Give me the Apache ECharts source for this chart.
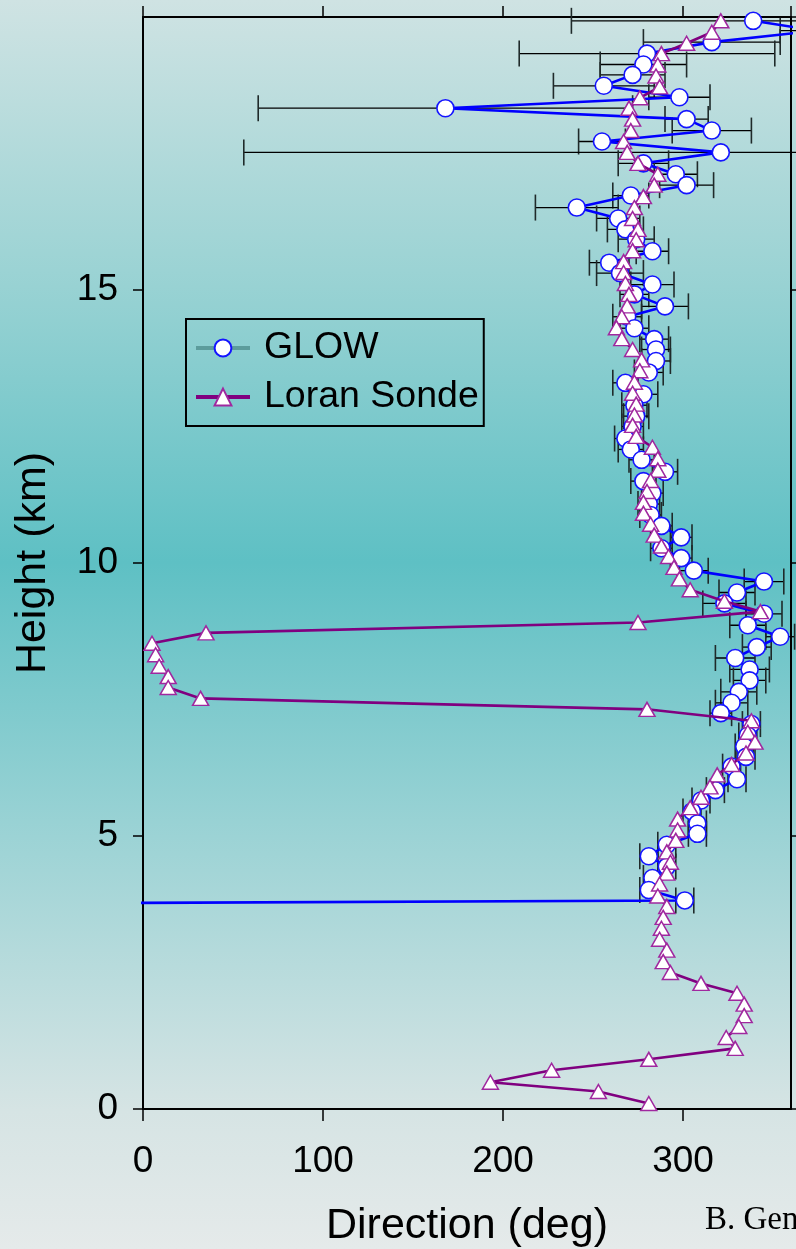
<!DOCTYPE html>
<html>
<head>
<meta charset="utf-8">
<script src="https://cdn.jsdelivr.net/npm/echarts@6/dist/echarts.min.js"></script>
<style>
  html, body { margin: 0; padding: 0; }
  #chart { width: 796px; height: 1249px; }
</style>
</head>
<body>
<div id="chart"></div>
<script>
// Wind direction profiles: GLOW lidar (with uncertainty) vs. Loran sonde
const glowHeight = [19.93, 19.75, 19.54, 19.33, 19.13, 18.94, 18.74, 18.53, 18.33, 18.13,
  17.92, 17.72, 17.52, 17.32, 17.12, 16.92, 16.73, 16.51, 16.31, 16.11,
  15.93, 15.71, 15.50, 15.31, 15.10, 14.92, 14.70, 14.51, 14.30, 14.10,
  13.91, 13.70, 13.49, 13.30, 13.09, 12.89, 12.69, 12.50, 12.28, 12.08,
  11.89, 11.67, 11.50, 11.28, 11.08, 10.88, 10.68, 10.47, 10.27, 10.09,
  9.86, 9.66, 9.46, 9.26, 9.07, 8.86, 8.65, 8.46, 8.26, 8.05,
  7.85, 7.64, 7.44, 7.25, 7.05, 6.84, 6.64, 6.45, 6.27, 6.04,
  5.84, 5.65, 5.45, 5.23, 5.04, 4.84, 4.63, 4.44, 4.23, 4.01,
  3.82, 3.76];
const glowDirection = [339, 374, 316, 280, 278, 272, 256, 298, 168, 302,
  316, 255, 321, 278, 296, 302, 271, 241, 264, 268,
  274, 283, 259, 265, 283, 273, 290, 269, 273, 284,
  285, 285, 281, 268, 278, 273, 274, 272, 268, 271,
  277, 290, 278, 283, 281, 282, 288, 299, 288, 299,
  306, 345, 330, 323, 345, 336, 354, 341, 329, 337,
  337, 331, 327, 321, 338, 336, 334, 335, 327, 330,
  318, 310, 305, 308, 308, 291, 281, 291, 283, 281,
  301, -100];
const glowError = [101, 20, 38, 71, 24, 18, 28, 17, 104, 12,
  22, 13, 265, 14, 12, 15, 10, 23, 12, 10,
  10, 9, 11, 13, 12, 8, 13, 8, 8, 8,
  8, 8, 8, 7, 8, 7, 7, 6, 6, 7,
  7, 7, 7, 6, 6, 6, 6, 6, 6, 6,
  8, 11, 10, 12, 10, 10, 8, 8, 11, 11,
  9, 10, 9, 6, 5, 5, 5, 5, 5, 5,
  5, 5, 5, 5, 5, 5, 5, 5, 5, 5,
  5, 0];

const loranHeight = [19.93, 19.72, 19.52, 19.33, 19.12, 18.92, 18.72, 18.52, 18.33, 18.13,
  17.92, 17.72, 17.52, 17.32, 17.12, 16.92, 16.71, 16.51, 16.31, 16.11,
  15.92, 15.72, 15.52, 15.32, 15.12, 14.92, 14.71, 14.51, 14.31, 14.11,
  13.91, 13.72, 13.52, 13.31, 13.11, 12.91, 12.71, 12.52, 12.32, 12.12,
  11.91, 11.70, 11.51, 11.31, 11.11, 10.91, 10.71, 10.51, 10.31, 10.12,
  9.92, 9.71, 9.51, 9.30, 9.11, 8.91, 8.72, 8.53, 8.32, 8.11,
  7.92, 7.72, 7.52, 7.32, 7.11, 6.90, 6.72, 6.52, 6.31, 6.12,
  5.90, 5.71, 5.52, 5.31, 5.11, 4.92, 4.71, 4.52, 4.32, 4.12,
  3.90, 3.71, 3.51, 3.31, 3.11, 2.91, 2.70, 2.50, 2.30, 2.12,
  1.92, 1.71, 1.51, 1.31, 1.11, 0.91, 0.71, 0.49, 0.32, 0.10];
const loranDirection = [321, 316, 302, 288, 286, 285, 287, 276, 270, 272,
  271, 267, 269, 275, 286, 284, 278, 273, 272, 275,
  274, 272, 267, 267, 268, 270, 269, 266, 263, 266,
  272, 277, 276, 273, 272, 274, 273, 272, 274, 283,
  286, 286, 282, 280, 278, 278, 282, 284, 288, 292,
  295, 298, 304, 323, 343, 275, 35, 5, 7, 9,
  14, 14, 32, 280, 338, 336, 340, 335, 327, 319,
  315, 310, 304, 297, 297, 296, 291, 293, 291, 287,
  286, 291, 289, 288, 287, 291, 289, 293, 310, 330,
  334, 334, 331, 324, 329, 281, 227, 193, 253, 281];

const xTicks = { min: 0, max: 360, interval: 100 };
const yTicks = { min: 0, max: 20, interval: 5 };

const FONT = 'Liberation Sans, Arial, sans-serif';

const glowPoints = glowHeight.map((h, i) => [glowDirection[i], h]);
const loranPoints = loranHeight.map((h, i) => [loranDirection[i], h]);
const glowBars = glowHeight
  .map((h, i) => [glowDirection[i] - glowError[i], glowDirection[i] + glowError[i], h, glowError[i]])
  .filter(d => d[3] > 0);

const chart = echarts.init(document.getElementById('chart'), null, { renderer: 'canvas' });

const axisLine = { show: true, onZero: false, lineStyle: { color: '#000', width: 2 } };
const axisTick = { show: true, inside: false, length: 12, lineStyle: { color: '#000', width: 1.5 } };

chart.setOption({
  animation: false,
  backgroundColor: {
    type: 'linear', x: 0, y: 0, x2: 0, y2: 1,
    colorStops: [
      { offset: 0.00, color: '#cfe3e3' },
      { offset: 0.23, color: '#98d2d3' },
      { offset: 0.45, color: '#5ec0c4' },
      { offset: 0.67, color: '#9cd3d5' },
      { offset: 0.89, color: '#d6e4e4' },
      { offset: 1.00, color: '#e5eaea' }
    ]
  },
  grid: { left: 143, right: 5, top: 17, bottom: 140, containLabel: false, outerBoundsMode: 'none' },
  legend: {
    orient: 'vertical',
    left: 186, top: 319,
    padding: [10, 5, 10, 8],
    itemGap: 11,
    itemWidth: 54,
    itemHeight: 21,
    borderColor: '#000',
    borderWidth: 2,
    textStyle: { fontFamily: FONT, fontSize: 37.5, color: '#000', padding: [0, 0, 0, 9] },
    data: [
      { name: 'GLOW', lineStyle: { color: '#5c9c9c', width: 4 } },
      { name: 'Loran Sonde', lineStyle: { width: 4 } }
    ]
  },
  xAxis: [
    {
      type: 'value', position: 'bottom', ...xTicks,
      name: 'Direction (deg)', nameLocation: 'middle', nameGap: 96,
      nameTextStyle: { fontFamily: FONT, fontSize: 43, color: '#000' },
      axisLine, axisTick,
      axisLabel: { fontFamily: FONT, fontSize: 37, color: '#000', margin: 34, showMaxLabel: false },
      splitLine: { show: false }
    },
    {
      type: 'value', position: 'top', ...xTicks,
      axisLine, axisTick: { ...axisTick, length: 11 },
      axisLabel: { show: false }, splitLine: { show: false }
    }
  ],
  yAxis: [
    {
      type: 'value', position: 'left', ...yTicks,
      name: 'Height (km)', nameLocation: 'middle', nameGap: 88,
      nameTextStyle: { fontFamily: FONT, fontSize: 43, color: '#000' },
      axisLine, axisTick: { ...axisTick, length: 10 },
      axisLabel: { fontFamily: FONT, fontSize: 37, color: '#000', margin: 25, showMaxLabel: false },
      splitLine: { show: false }
    },
    {
      type: 'value', position: 'right', ...yTicks,
      axisLine, axisTick: { ...axisTick, length: 8 },
      axisLabel: { show: false }, splitLine: { show: false }
    }
  ],
  graphic: [
    {
      type: 'text', left: 705, top: 1204, silent: true,
      style: { text: 'B. Gentry', font: '33px "Liberation Serif", "Times New Roman", serif', fill: '#000' }
    }
  ],
  series: [
    {
      type: 'custom',
      name: 'GLOW error',
      clip: false,
      z: 1,
      encode: { x: [0, 1], y: 2 },
      data: glowBars,
      renderItem: (params, api) => {
        const lo = api.coord([api.value(0), api.value(2)]);
        const hi = api.coord([api.value(1), api.value(2)]);
        const cap = 13;
        return {
          type: 'group',
          children: [
            { type: 'line', shape: { x1: lo[0], y1: lo[1], x2: hi[0], y2: hi[1] },
              style: { stroke: '#000', lineWidth: 1.3 } },
            { type: 'line', shape: { x1: lo[0], y1: lo[1] - cap, x2: lo[0], y2: lo[1] + cap },
              style: { stroke: '#1f2a2a', lineWidth: 1.6 } },
            { type: 'line', shape: { x1: hi[0], y1: hi[1] - cap, x2: hi[0], y2: hi[1] + cap },
              style: { stroke: '#1f2a2a', lineWidth: 1.6 } }
          ]
        };
      }
    },
    {
      type: 'line',
      name: 'GLOW',
      z: 3,
      data: glowPoints,
      clip: true,
      symbol: 'circle',
      symbolSize: 17,
      showAllSymbol: true,
      lineStyle: { color: '#0000ff', width: 2.6 },
      itemStyle: { color: '#ffffff', borderColor: '#1414ff', borderWidth: 1.6 }
    },
    {
      type: 'line',
      name: 'Loran Sonde',
      z: 4,
      data: loranPoints,
      clip: true,
      symbol: 'triangle',
      symbolSize: [16, 14],
      showAllSymbol: true,
      lineStyle: { color: '#800080', width: 2.6 },
      itemStyle: { color: '#ffffff', borderColor: '#a0289f', borderWidth: 1.5 }
    }
  ]
});
</script>
</body>
</html>
